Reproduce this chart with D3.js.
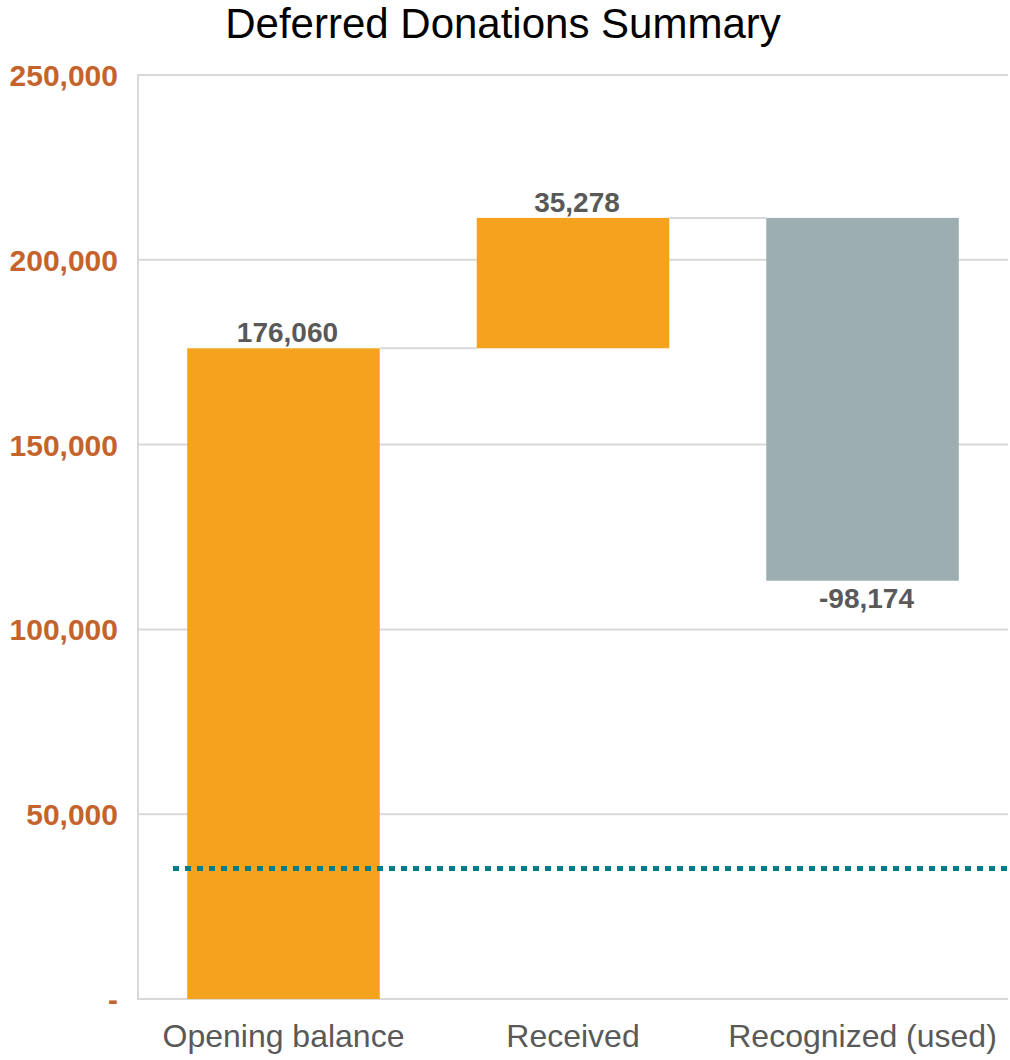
<!DOCTYPE html>
<html>
<head>
<meta charset="utf-8">
<script src="https://cdn.jsdelivr.net/npm/d3@7"></script>
<style>
  body { margin: 0; background: #fff; }
  svg { display: block; }
</style>
</head>
<body>
<svg id="chart" width="1010" height="1060"></svg>
<script>
const title = "Deferred Donations Summary";
const categories = ["Opening balance", "Received", "Recognized (used)"];
const changes = [176060, 35278, -98174];
const labels = ["176,060", "35,278", "-98,174"];
const yTicks = [0, 50000, 100000, 150000, 200000, 250000];
const referenceValue = 35278;

const W = 1010, H = 1060;
const m = { left: 138, right: 2, top: 75, bottom: 61 };
const svg = d3.select("#chart");

const x = d3.scaleBand().domain(categories).range([m.left, W - m.right]).paddingInner(0.335).paddingOuter(0.17);
const y = d3.scaleLinear().domain([0, 250000]).range([H - m.bottom, m.top]);

// compute waterfall
let running = 0;
const bars = categories.map((c, i) => {
  const start = running;
  const end = running + changes[i];
  running = end;
  return { cat: c, start, end, value: changes[i], label: labels[i] };
});

// gridlines
const grid = svg.append("g");
grid.selectAll("line").data(yTicks).join("line")
  .attr("x1", m.left).attr("x2", W - m.right)
  .attr("y1", d => y(d)).attr("y2", d => y(d))
  .attr("stroke", "#d9d9d9").attr("stroke-width", 2);
// left axis line
svg.append("line").attr("x1", m.left).attr("x2", m.left)
  .attr("y1", y(250000) - 1).attr("y2", y(0) + 1)
  .attr("stroke", "#d9d9d9").attr("stroke-width", 2);

// y tick labels
const yAxis = d3.axisLeft(y).tickValues(yTicks).tickSize(0).tickPadding(20)
  .tickFormat(d => d === 0 ? "-" : d3.format(",")(d));
const ga = svg.append("g").attr("transform", `translate(${m.left},0)`).call(yAxis);
ga.select(".domain").remove();
ga.selectAll("text")
  .attr("font-family", "Liberation Sans, Arial, sans-serif")
  .attr("font-size", 30).attr("font-weight", "bold")
  .attr("fill", "#c5632c").attr("dy", "0.35em");

// connectors
for (let i = 0; i < bars.length - 1; i++) {
  const b = bars[i];
  svg.append("line")
    .attr("x1", x(b.cat) + x.bandwidth()).attr("x2", x(bars[i + 1].cat))
    .attr("y1", y(b.end)).attr("y2", y(b.end))
    .attr("stroke", "#d9d9d9").attr("stroke-width", 2);
}

// bars
svg.append("g").selectAll("rect").data(bars).join("rect")
  .attr("x", d => x(d.cat)).attr("width", x.bandwidth())
  .attr("y", d => y(Math.max(d.start, d.end)))
  .attr("height", d => Math.abs(y(d.start) - y(d.end)))
  .attr("fill", d => d.value >= 0 ? "#f5a31f" : "#9daeb3");

// data labels
svg.append("g").selectAll("text").data(bars).join("text")
  .attr("x", d => x(d.cat) + x.bandwidth() / 2 + 4)
  .attr("y", d => d.value >= 0 ? y(d.end) - 6 : y(d.end) + 27)
  .attr("text-anchor", "middle")
  .attr("font-family", "Liberation Sans, Arial, sans-serif")
  .attr("font-size", 28).attr("font-weight", "bold")
  .attr("fill", "#595959")
  .text(d => d.label);

// reference dotted line
svg.append("line")
  .attr("x1", 173).attr("x2", W - m.right)
  .attr("y1", y(referenceValue)).attr("y2", y(referenceValue))
  .attr("stroke", "#007b8a").attr("stroke-width", 5)
  .attr("stroke-dasharray", "6,6");

// x labels
const xAxis = d3.axisBottom(x).tickSize(0).tickPadding(0);
const gx = svg.append("g").attr("transform", `translate(0,${y(0)})`).call(xAxis);
gx.select(".domain").remove();
gx.selectAll("text")
  .attr("font-family", "Liberation Sans, Arial, sans-serif")
  .attr("font-size", 32).attr("fill", "#595959")
  .attr("dy", null).attr("y", 48);

// title
svg.append("text").attr("x", 503).attr("y", 38)
  .attr("text-anchor", "middle")
  .attr("font-family", "Liberation Sans, Arial, sans-serif")
  .attr("font-size", 42).attr("fill", "#000")
  .text(title);
</script>
</body>
</html>
